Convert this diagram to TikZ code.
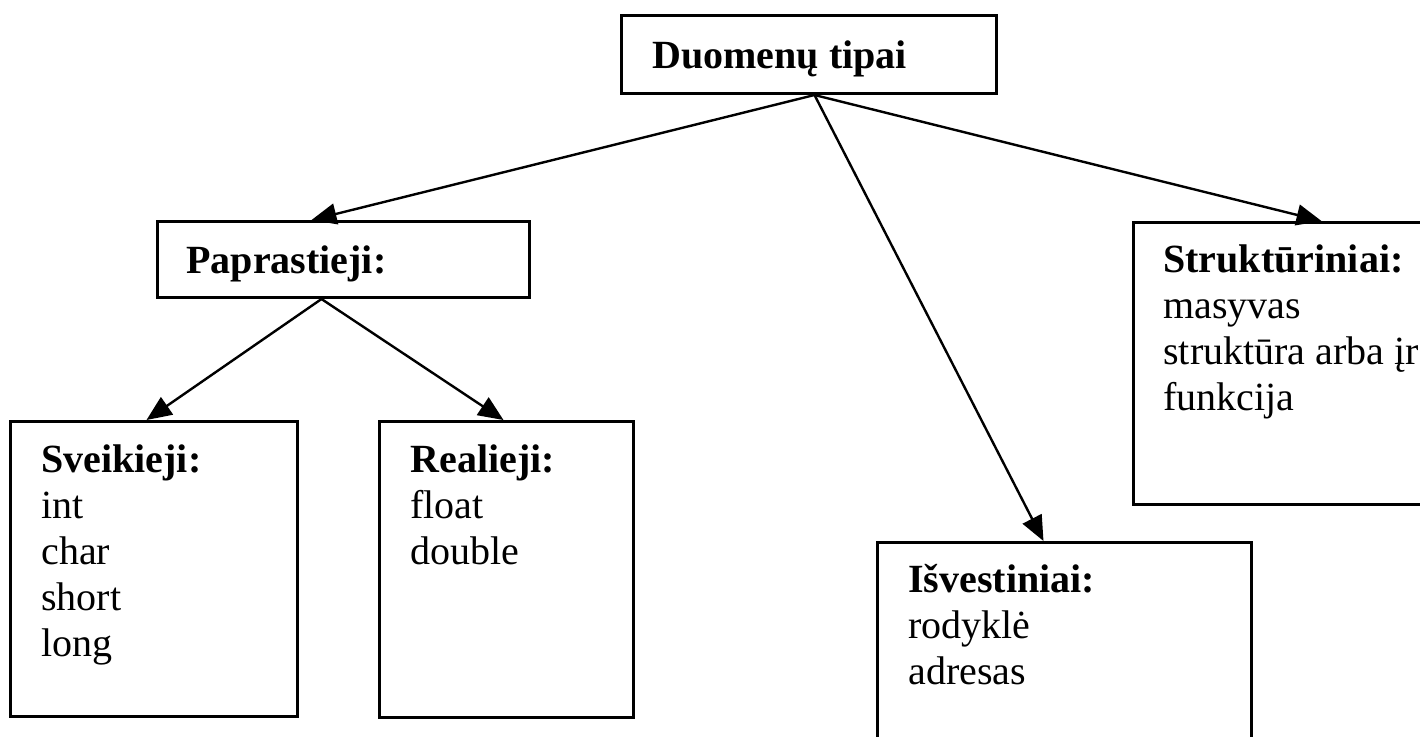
\documentclass[tikz,border=0pt]{standalone}
\usepackage{fontspec}
\setmainfont{Liberation Serif}
\usetikzlibrary{arrows.meta}
\tikzset{
  box/.style={draw=black, line width=1.5pt, rectangle, anchor=north west, inner sep=0pt, fill=white},
  lbl/.style={anchor=base west, inner sep=0pt, font=\fontsize{20}{23}\selectfont},
  arr/.style={draw=black, line width=1.2pt, -{Triangle[length=12.5pt,width=10.5pt]}}
}
\newcommand{\lines}[1]{\begin{tabular}[t]{@{}l@{}}#1\end{tabular}}
\begin{document}
\begin{tikzpicture}[x=0.5pt,y=-0.5pt]
\useasboundingbox (0,0) rectangle (1420,736);
\clip (0,0) rectangle (1420,736);
\fill[white] (0,0) rectangle (1420,736);
% boxes
\node[box, minimum width=187.5pt, minimum height=39pt] (top) at (620,14) {};
\node[box, minimum width=186pt, minimum height=38pt] (papr) at (156,220) {};
\node[box, minimum width=143.5pt, minimum height=147.5pt] (sveik) at (9,420) {};
\node[box, minimum width=127pt, minimum height=148pt] (real) at (378,420) {};
\node[box, minimum width=187pt, minimum height=125pt] (isv) at (876,541) {};
\node[box, minimum width=160pt, minimum height=141pt] (strukt) at (1132,221) {};
% texts
\node[lbl] (ttop) at (652,68) {\textbf{Duomenų tipai}};
\node[lbl] (tpapr) at (186,273) {\textbf{Paprastieji:}};
\node[lbl] (tsveik) at (41,472) {\lines{\textbf{Sveikieji:}\\int\\char\\short\\long}};
\node[lbl] (treal) at (410,472) {\lines{\textbf{Realieji:}\\float\\double}};
\node[lbl] (tisv) at (908,592) {\lines{\textbf{Išvestiniai:}\\rodyklė\\adresas}};
\node[lbl] (tstrukt) at (1163,272) {\lines{\textbf{Struktūriniai:}\\masyvas\\struktūra arba įr\\funkcija}};
% connectors
\draw[arr] ([xshift=2.75pt]top.south) -- ([xshift=-16pt]papr.north);
\draw[arr] ([xshift=2.75pt]top.south) -- ([xshift=-10.5pt]isv.north);
\draw[arr] ([xshift=2.75pt]top.south) -- ([xshift=14pt]strukt.north);
\draw[arr] ([xshift=-11pt]papr.south) -- ([xshift=-3.75pt]sveik.north);
\draw[arr] ([xshift=-11pt]papr.south) -- ([xshift=-1.5pt]real.north);
\end{tikzpicture}
\end{document}
